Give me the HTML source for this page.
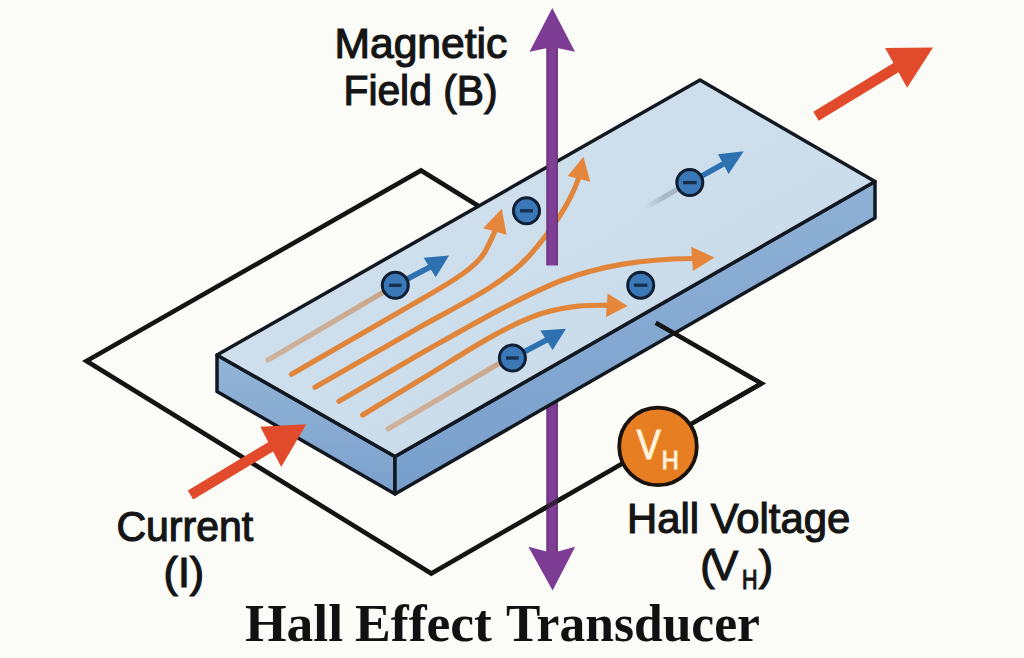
<!DOCTYPE html>
<html><head><meta charset="utf-8">
<style>
html,body{margin:0;padding:0;background:#FBFBF8;}
body{width:1024px;height:658px;overflow:hidden;position:relative;}
svg{position:absolute;left:0;top:0;}
</style></head>
<body>
<svg width="1024" height="658" viewBox="0 0 1024 658">
<defs>
  <linearGradient id="topg" x1="0" y1="0" x2="1" y2="1">
    <stop offset="0" stop-color="#D3E2EE"/>
    <stop offset="1" stop-color="#C6D9E9"/>
  </linearGradient>
  <linearGradient id="sideL" x1="0" y1="0" x2="0" y2="1">
    <stop offset="0" stop-color="#93B4D6"/>
    <stop offset="1" stop-color="#7BA1CD"/>
  </linearGradient>
  <linearGradient id="sideR" x1="0" y1="0" x2="0" y2="1">
    <stop offset="0" stop-color="#8FB1D5"/>
    <stop offset="1" stop-color="#789FCC"/>
  </linearGradient>
  <linearGradient id="trail3" gradientUnits="userSpaceOnUse" x1="645" y1="208" x2="676" y2="190">
    <stop offset="0" stop-color="#A9B8C5" stop-opacity="0"/>
    <stop offset="0.6" stop-color="#A9B8C5" stop-opacity="1"/>
  </linearGradient>
  <linearGradient id="trailA" gradientUnits="userSpaceOnUse" x1="268" y1="360" x2="382" y2="293">
    <stop offset="0" stop-color="#CFB29C"/>
    <stop offset="1" stop-color="#C9A78D"/>
  </linearGradient>
  <linearGradient id="trailF" gradientUnits="userSpaceOnUse" x1="388" y1="429" x2="498" y2="364">
    <stop offset="0" stop-color="#CFB29C"/>
    <stop offset="1" stop-color="#C9A78D"/>
  </linearGradient>
  <linearGradient id="purp" x1="0" y1="0" x2="1" y2="0">
    <stop offset="0" stop-color="#5F2D6E"/>
    <stop offset="0.2" stop-color="#7C3D92"/>
    <stop offset="0.5" stop-color="#833F98"/>
    <stop offset="0.8" stop-color="#7C3D92"/>
    <stop offset="1" stop-color="#5F2D6E"/>
  </linearGradient>
</defs>
<!-- wire loop (under slab) -->
<polyline points="600,281 421,170.5 86.5,361 431.3,573.5 761.5,383.4" fill="none" stroke="#141414" stroke-width="4.6" stroke-linejoin="miter" stroke-miterlimit="10"/>
<!-- purple lower shaft -->
<rect x="546.3" y="380" width="11.6" height="180" fill="url(#purp)"/>
<polygon points="528.4,546.8 552.4,553 575.2,546.8 552.6,590.5" fill="#7D3C94"/>
<line x1="540" y1="511" x2="565" y2="496.6" stroke="#141414" stroke-width="4.6" opacity="0.7"/>
<!-- slab -->
<polygon points="217,355 395,456.5 395,494 217,391.5" fill="url(#sideL)" stroke="#111820" stroke-width="3.5" stroke-linejoin="round"/>
<polygon points="395,456.5 875,181.6 875,218 395,494" fill="url(#sideR)" stroke="#111820" stroke-width="3.5" stroke-linejoin="round"/>
<polygon points="217,355 700,80 875,181.6 395,456.5" fill="url(#topg)" stroke="#111820" stroke-width="3.5" stroke-linejoin="round"/>
<!-- wire contact on side -->
<polyline points="655.7,322.8 761.5,383.4 700,418.8" fill="none" stroke="#141414" stroke-width="4.6" stroke-linejoin="miter" stroke-miterlimit="10"/>
<!-- orange current lines -->
<g fill="none" stroke-width="5.2" stroke-linecap="round">
  <path d="M268,360 L382,293" stroke="url(#trailA)"/>
  <path d="M291.5,374.3 L420,300 C455,280 478,266 486,250 C490,242 493,236 495,231" stroke="#E0853A"/>
  <path d="M315,387.3 L420,327 C465,302 505,283 530,255 C550,232 568,208 578,180" stroke="#E0853A"/>
  <path d="M339,401.2 L420,354 C470,326 510,302 560,281 C600,266 640,259 692,258.5" stroke="#E0853A"/>
  <path d="M362.6,415 L420,380 C460,356 500,328 540,314 C570,305 590,305 607,305.3" stroke="#E0853A"/>
  <path d="M388,429 L498,364" stroke="url(#trailF)"/>
  <path d="M645,208 L678,189" stroke="url(#trail3)" stroke-width="5"/>
</g>
<g fill="#E5863A">
  <polygon points="501.7,208.7 483.2,228.3 506.6,234.7"/>
  <polygon points="583.5,156.7 567.7,176 590.2,181.8"/>
  <polygon points="714.6,257.6 691.2,246.8 692.9,271"/>
  <polygon points="627.7,306.1 607.6,293.6 606,317"/>
</g>
<!-- purple upper shaft -->
<rect x="546.3" y="46.5" width="11.6" height="219" fill="url(#purp)"/>
<polygon points="552.3,7.9 529.5,51.7 552.3,47 575,51.7" fill="#7D3C94"/>
<!-- electrons with arrows -->
<g stroke="#2E71B1" stroke-width="5.5" fill="none">
  <line x1="395.3" y1="285.3" x2="431" y2="266.5"/>
  <line x1="689.8" y1="182.6" x2="725" y2="163"/>
  <line x1="512.4" y1="358" x2="548" y2="339.3"/>
</g>
<g fill="#2E71B1">
  <polygon points="449.1,255.5 423.6,257.7 435.7,277.2"/>
  <polygon points="743.8,151.2 718,154.2 728.6,174"/>
  <polygon points="566,328.8 540.4,330.5 552.6,350"/>
</g>
<g fill="#3B78B7" stroke="#0F1E31" stroke-width="3">
  <circle cx="395.3" cy="285.3" r="13"/>
  <circle cx="526.5" cy="210.8" r="13"/>
  <circle cx="689.8" cy="182.6" r="13"/>
  <circle cx="640.7" cy="285.2" r="13"/>
  <circle cx="512.4" cy="358" r="13"/>
</g>
<g stroke="#17304F" stroke-width="3.3">
  <line x1="389" y1="285.3" x2="401.6" y2="285.3"/>
  <line x1="520" y1="210.8" x2="533" y2="210.8"/>
  <line x1="683" y1="182.6" x2="696.6" y2="182.6"/>
  <line x1="634" y1="285.2" x2="647.4" y2="285.2"/>
  <line x1="506" y1="358" x2="518.8" y2="358"/>
</g>
<!-- red arrows -->
<g stroke="#E24A2C" stroke-width="10.5" stroke-linecap="butt">
  <line x1="190.5" y1="495" x2="272" y2="446"/>
  <line x1="816" y1="116.2" x2="897" y2="67"/>
</g>
<g fill="#E24A2C">
  <polygon points="306.3,424.2 260.3,426.8 281.2,466.9"/>
  <polygon points="933,47.5 885.1,47.9 907.1,87.8"/>
</g>
<!-- VH meter -->
<circle cx="658" cy="446.4" r="38.8" fill="#E87E22" stroke="#1A120C" stroke-width="3.8"/>
<g font-family="Liberation Sans, sans-serif" fill="#151515" stroke="#151515" stroke-width="1.2" text-anchor="middle" font-size="43">
  <text x="420.9" y="58.2" textLength="172.9" lengthAdjust="spacingAndGlyphs">Magnetic</text>
  <text x="420.5" y="104.7" textLength="154" lengthAdjust="spacingAndGlyphs">Field (B)</text>
  <text x="184.8" y="541" textLength="136.6" lengthAdjust="spacingAndGlyphs">Current</text>
  <text x="183.9" y="586.7">(I)</text>
  <text x="738.6" y="532.7" textLength="223.1" lengthAdjust="spacingAndGlyphs">Hall Voltage</text>
  <text x="707.5" y="580">(</text>
  <text x="724.3" y="580" textLength="28" lengthAdjust="spacingAndGlyphs">V</text>
  <text x="749.7" y="589" font-size="27.6" textLength="15.5" lengthAdjust="spacingAndGlyphs">H</text>
  <text x="766" y="580">)</text>
</g>
<g font-family="Liberation Sans, sans-serif" fill="#FFF3DC" stroke="#FFF3DC" stroke-width="1.1" text-anchor="middle">
  <text x="648.7" y="458.5" font-size="42.5" textLength="24" lengthAdjust="spacingAndGlyphs">V</text>
  <text x="670.2" y="468.6" font-size="25.6" textLength="17" lengthAdjust="spacingAndGlyphs">H</text>
</g>
<g font-family="Liberation Serif, serif" font-weight="bold" font-size="53" fill="#111">
  <text x="245" y="641.4" textLength="98" lengthAdjust="spacingAndGlyphs">Hall</text>
  <text x="355" y="641.4" textLength="137" lengthAdjust="spacingAndGlyphs">Effect</text>
  <text x="506" y="641.4" textLength="254" lengthAdjust="spacingAndGlyphs">Transducer</text>
</g>
</svg>
</body></html>
